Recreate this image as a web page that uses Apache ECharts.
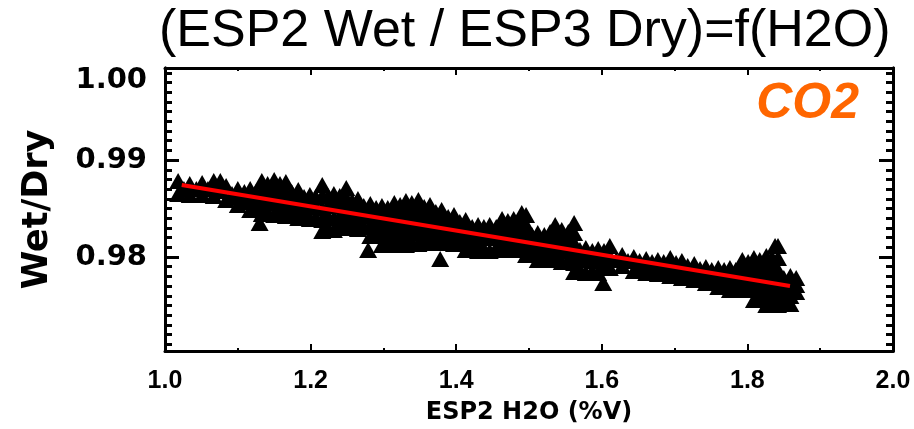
<!DOCTYPE html>
<html><head><meta charset="utf-8">
<script src="https://cdn.jsdelivr.net/npm/echarts@6/dist/echarts.min.js"></script>
<style>html,body{margin:0;padding:0;background:#fff}#c{width:914px;height:429px}</style>
</head><body><div id="c"></div>
<script>
const chartTitle = '(ESP2 Wet / ESP3 Dry)=f(H2O)';
const gasLabel = 'CO2';
const xName = 'ESP2 H2O (%V)';
const yName = 'Wet/Dry';
const xMin = 1.0, xMax = 2.0, xStep = 0.2;
const yMin = 0.9703, yMax = 0.9995;
const yLabelValues = [0.98, 0.99, 0.9995];
const yMajorTicks = [0.98, 0.99];

// upper edge of the point cloud [H2O, Wet/Dry]
const upperPts = [
 [1.018,0.98784],[1.034,0.98753],[1.051,0.98763],[1.067,0.98784],[1.084,0.98732],[1.100,0.98701],
 [1.117,0.98701],[1.133,0.98784],[1.150,0.98794],[1.166,0.98773],[1.183,0.98691],[1.199,0.98639],
 [1.216,0.98742],[1.232,0.98649],[1.249,0.98711],[1.265,0.98598],[1.282,0.98546],[1.298,0.98526],
 [1.315,0.98557],[1.331,0.98577],[1.348,0.98588],[1.364,0.98536],[1.380,0.98485],[1.397,0.98433],
 [1.413,0.98381],[1.430,0.98330],[1.446,0.98330],[1.463,0.98392],[1.479,0.98392],[1.496,0.98433],
 [1.512,0.98247],[1.529,0.98258],[1.545,0.98278],[1.562,0.98351],[1.578,0.98093],[1.595,0.98082],
 [1.611,0.98113],[1.628,0.98021],[1.644,0.98000],[1.661,0.97979],[1.677,0.97969],[1.694,0.97990],
 [1.710,0.97959],[1.727,0.97928],[1.743,0.97897],[1.760,0.97887],[1.776,0.97887],[1.793,0.97969],
 [1.809,0.97990],[1.826,0.98010],[1.842,0.98113],[1.859,0.97804],[1.867,0.97784]
];
// lower edge of the point cloud
const lowerPts = [
 [1.018,0.98649],[1.034,0.98639],[1.051,0.98639],[1.067,0.98629],[1.084,0.98588],[1.100,0.98536],
 [1.117,0.98485],[1.133,0.98443],[1.150,0.98433],[1.166,0.98423],[1.183,0.98402],[1.199,0.98392],
 [1.216,0.98268],[1.232,0.98278],[1.249,0.98299],[1.265,0.98289],[1.282,0.98216],[1.298,0.98124],
 [1.315,0.98124],[1.331,0.98124],[1.348,0.98134],[1.364,0.98144],[1.380,0.98144],[1.397,0.98134],
 [1.413,0.98072],[1.430,0.98062],[1.446,0.98062],[1.463,0.98072],[1.479,0.98072],[1.496,0.98021],
 [1.512,0.97969],[1.529,0.97969],[1.545,0.97948],[1.562,0.97845],[1.578,0.97835],[1.595,0.97835],
 [1.611,0.97887],[1.628,0.97907],[1.644,0.97856],[1.661,0.97835],[1.677,0.97825],[1.694,0.97804],
 [1.710,0.97784],[1.727,0.97763],[1.743,0.97732],[1.760,0.97691],[1.776,0.97660],[1.793,0.97660],
 [1.809,0.97557],[1.826,0.97505],[1.842,0.97505],[1.859,0.97515],[1.867,0.97639]
];
// points inside the cloud
const middlePts = [
 [1.100,0.98619],[1.117,0.98598],[1.133,0.98670],[1.133,0.98557],[1.150,0.98680],[1.150,0.98557],
 [1.166,0.98660],[1.166,0.98536],[1.183,0.98588],[1.183,0.98495],[1.199,0.98515],
 [1.216,0.98629],[1.216,0.98505],[1.216,0.98381],[1.232,0.98526],[1.232,0.98402],
 [1.249,0.98608],[1.249,0.98505],[1.249,0.98402],[1.265,0.98495],[1.265,0.98392],
 [1.282,0.98443],[1.282,0.98330],[1.298,0.98423],[1.298,0.98320],[1.298,0.98216],
 [1.315,0.98454],[1.315,0.98340],[1.315,0.98227],[1.331,0.98464],[1.331,0.98351],[1.331,0.98237],
 [1.348,0.98474],[1.348,0.98361],[1.348,0.98247],[1.364,0.98433],[1.364,0.98330],[1.364,0.98237],
 [1.380,0.98371],[1.380,0.98258],[1.397,0.98330],[1.397,0.98227],[1.413,0.98278],[1.413,0.98175],
 [1.430,0.98237],[1.430,0.98144],[1.446,0.98196],[1.463,0.98289],[1.463,0.98175],
 [1.479,0.98289],[1.479,0.98175],[1.496,0.98330],[1.496,0.98227],[1.496,0.98124],
 [1.512,0.98155],[1.512,0.98062],[1.529,0.98165],[1.529,0.98062],[1.545,0.98175],[1.545,0.98062],
 [1.562,0.98247],[1.562,0.98144],[1.562,0.98041],[1.562,0.97938],[1.578,0.97969],[1.595,0.97959],
 [1.611,0.98000],[1.661,0.97907],[1.677,0.97897],[1.694,0.97897],[1.710,0.97866],[1.727,0.97845],
 [1.743,0.97814],[1.760,0.97784],[1.776,0.97773],[1.793,0.97866],[1.793,0.97763],
 [1.809,0.97887],[1.809,0.97773],[1.809,0.97660],[1.826,0.97907],[1.826,0.97804],[1.826,0.97701],
 [1.826,0.97598],[1.842,0.97990],[1.842,0.97866],[1.842,0.97742],[1.842,0.97619],
 [1.859,0.97701],[1.859,0.97598],[1.867,0.97711]
];
// more points inside the cloud, between the columns above
const densePts = [
 [1.026,0.98701],[1.043,0.98701],[1.059,0.98701],[1.076,0.98680],[1.092,0.98649],
 [1.109,0.98670],[1.109,0.98567],[1.125,0.98670],[1.125,0.98588],[1.125,0.98505],
 [1.141,0.98753],[1.141,0.98660],[1.141,0.98557],[1.141,0.98464],
 [1.158,0.98753],[1.158,0.98649],[1.158,0.98546],[1.158,0.98454],
 [1.174,0.98670],[1.174,0.98557],[1.174,0.98443],[1.191,0.98619],[1.191,0.98515],[1.191,0.98423],
 [1.207,0.98619],[1.207,0.98515],[1.207,0.98412],
 [1.224,0.98629],[1.224,0.98526],[1.224,0.98412],[1.224,0.98299],
 [1.240,0.98629],[1.240,0.98526],[1.240,0.98423],[1.240,0.98320],
 [1.257,0.98577],[1.257,0.98485],[1.257,0.98392],[1.257,0.98320],
 [1.273,0.98526],[1.273,0.98423],[1.273,0.98309],
 [1.290,0.98505],[1.290,0.98412],[1.290,0.98320],[1.290,0.98237],
 [1.306,0.98505],[1.306,0.98412],[1.306,0.98320],[1.306,0.98227],[1.306,0.98144],
 [1.323,0.98536],[1.323,0.98433],[1.323,0.98340],[1.323,0.98237],[1.323,0.98144],
 [1.339,0.98557],[1.339,0.98454],[1.339,0.98351],[1.339,0.98258],[1.339,0.98155],
 [1.356,0.98515],[1.356,0.98423],[1.356,0.98340],[1.356,0.98247],[1.356,0.98165],
 [1.372,0.98464],[1.372,0.98361],[1.372,0.98268],[1.372,0.98165],
 [1.389,0.98412],[1.389,0.98330],[1.389,0.98247],[1.389,0.98165],
 [1.405,0.98361],[1.405,0.98258],[1.405,0.98155],[1.422,0.98309],[1.422,0.98206],[1.422,0.98093],
 [1.438,0.98309],[1.438,0.98196],[1.438,0.98082],[1.455,0.98309],[1.455,0.98196],[1.455,0.98093],
 [1.471,0.98371],[1.471,0.98278],[1.471,0.98186],[1.471,0.98093],
 [1.488,0.98371],[1.488,0.98278],[1.488,0.98186],[1.488,0.98093],
 [1.504,0.98227],[1.504,0.98134],[1.504,0.98041],[1.521,0.98227],[1.521,0.98113],[1.521,0.97990],
 [1.537,0.98237],[1.537,0.98113],[1.537,0.97990],
 [1.554,0.98258],[1.554,0.98165],[1.554,0.98062],[1.554,0.97969],
 [1.570,0.98072],[1.570,0.97969],[1.570,0.97866],[1.587,0.98062],[1.587,0.97959],[1.587,0.97856],
 [1.603,0.98062],[1.603,0.97979],[1.603,0.97907],[1.620,0.97969],[1.636,0.97959],
 [1.652,0.97959],[1.652,0.97876],[1.669,0.97948],[1.669,0.97856],[1.685,0.97948],[1.685,0.97845],
 [1.702,0.97938],[1.702,0.97825],[1.718,0.97907],[1.718,0.97804],[1.735,0.97876],[1.735,0.97784],
 [1.751,0.97866],[1.751,0.97753],[1.768,0.97866],[1.768,0.97784],[1.768,0.97711],
 [1.784,0.97866],[1.784,0.97773],[1.784,0.97680],
 [1.801,0.97948],[1.801,0.97856],[1.801,0.97763],[1.801,0.97680],
 [1.817,0.97969],[1.817,0.97866],[1.817,0.97773],[1.817,0.97670],[1.817,0.97577],
 [1.834,0.97990],[1.834,0.97897],[1.834,0.97804],[1.834,0.97711],[1.834,0.97619],[1.834,0.97526],
 [1.850,0.97784],[1.850,0.97660],[1.850,0.97536]
];
// isolated points
const outlierPts = [
 [1.130,0.98351],[1.279,0.98072],[1.378,0.97979],[1.602,0.97732],
 [1.076,0.98784],[1.490,0.98454],[1.536,0.98330],[1.838,0.98113]
];
// linear fit
const fitLine = [[1.023,0.98742],[1.8585,0.97701]];

const yMinorTicks = [];
for (let k = 971; k <= 999; k++) yMinorTicks.push(k / 1000);

const tickFont = 'DejaVu Sans';
const baseY = {
  type: 'value', min: yMin, max: yMax, scale: true,
  splitLine: { show: false },
  axisLine: { show: true, lineStyle: { color: '#000', width: 3 } },
  axisLabel: { show: false }
};
const baseX = {
  type: 'value', min: xMin, max: xMax, interval: xStep,
  splitLine: { show: false },
  axisLine: { show: true, lineStyle: { color: '#000', width: 3 } },
  axisTick: { show: true, inside: true, length: 7, lineStyle: { color: '#000', width: 2 } },
  minorTick: { show: true, splitNumber: 2, length: 3, lineStyle: { color: '#000', width: 2 } },
  minorSplitLine: { show: false }
};
const markStyle = { color: '#000', opacity: 1 };
const markSize = [18, 16];
const scatterOf = pts => ({ type: 'scatter', data: pts, symbol: 'triangle', symbolSize: markSize, itemStyle: markStyle, silent: true });

const chart = echarts.init(document.getElementById('c'), null, { renderer: 'canvas' });
const option = {
  animation: false,
  backgroundColor: '#fff',
  title: [
    { text: chartTitle, left: 154, top: 1,
      textStyle: { fontFamily: 'Liberation Sans', fontWeight: 'normal', fontSize: 52, color: '#000' } },
    { text: gasLabel, right: 50, top: 74,
      textStyle: { fontFamily: 'Liberation Sans', fontWeight: 'bold', fontStyle: 'italic', fontSize: 50, color: '#ff6600' } }
  ],
  grid: { left: 165, right: 21, top: 68, bottom: 78, containLabel: false, outerBoundsMode: 'none' },
  xAxis: [
    Object.assign({}, baseX, {
      position: 'bottom',
      name: xName, nameLocation: 'middle', nameGap: 50,
      nameTextStyle: { fontFamily: 'DejaVu Sans', fontWeight: 'bold', fontSize: 24, color: '#000' },
      axisLabel: { show: true, margin: 18, color: '#000', fontFamily: 'Liberation Sans', fontWeight: 'bold', fontSize: 25,
        formatter: v => v.toFixed(1) }
    }),
    Object.assign({}, baseX, { position: 'top', axisLabel: { show: false } })
  ],
  yAxis: [
    Object.assign({}, baseY, {
      position: 'left',
      name: yName, nameLocation: 'middle', nameGap: 110, nameRotate: 90,
      nameTextStyle: { fontFamily: 'DejaVu Sans', fontWeight: 'bold', fontSize: 35, color: '#000' },
      axisTick: { show: true, inside: true, length: 14, customValues: yMajorTicks, lineStyle: { color: '#000', width: 3 } },
      axisLabel: { show: true, margin: 18, color: '#000', fontFamily: tickFont, fontWeight: 'bold', fontSize: 29,
        customValues: yLabelValues,
        formatter: v => v > 0.995 ? '{top|' + v.toFixed(2) + '}' : v.toFixed(2),
        rich: { top: { padding: [24, 0, 0, 0], fontFamily: tickFont, fontWeight: 'bold', fontSize: 29, color: '#000' } } }
    }),
    Object.assign({}, baseY, {
      position: 'left',
      axisTick: { show: true, inside: true, length: 7, customValues: yMinorTicks, lineStyle: { color: '#000', width: 3 } }
    }),
    Object.assign({}, baseY, {
      position: 'right',
      axisTick: { show: true, inside: true, length: 14, customValues: yMajorTicks, lineStyle: { color: '#000', width: 3 } }
    }),
    Object.assign({}, baseY, {
      position: 'right',
      axisTick: { show: true, inside: true, length: 7, customValues: yMinorTicks, lineStyle: { color: '#000', width: 3 } }
    })
  ],
  series: [
    scatterOf(upperPts),
    scatterOf(middlePts),
    scatterOf(densePts),
    scatterOf(lowerPts),
    scatterOf(outlierPts),
    { type: 'line', data: fitLine, symbol: 'none', z: 5, lineStyle: { color: '#ff0000', width: 4 }, silent: true }
  ]
};
chart.setOption(option);
</script>
</body></html>
